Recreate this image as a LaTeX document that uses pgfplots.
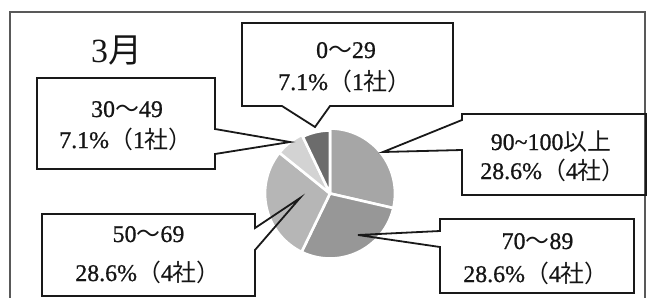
\documentclass[border=0pt]{standalone}
\usepackage{pgfplots}
\pgfplotsset{compat=1.18}
\usepackage{pgfplotstable}
\usepackage{fontspec}
\setmainfont{Liberation Serif}
\newfontfamily\lfont{Liberation Serif}[FakeBold=0.8]
\newfontfamily\jp{Noto Sans CJK JP}

\definecolor{cA}{HTML}{A6A6A6} % 90-100
\definecolor{cB}{HTML}{979797} % 70-89
\definecolor{cC}{HTML}{B6B6B6} % 50-69
\definecolor{cD}{HTML}{D3D3D3} % 30-49
\definecolor{cE}{HTML}{6C6C6C} % 0-29
\definecolor{txt}{HTML}{151515}

\pgfplotstableread{
range pct
90-100 28.6
70-89 28.6
50-69 28.6
30-49 7.1
0-29 7.1
}\piedata

\pgfplotstablegetelem{0}{pct}\of\piedata\let\pA\pgfplotsretval
\pgfplotstablegetelem{1}{pct}\of\piedata\let\pB\pgfplotsretval
\pgfplotstablegetelem{2}{pct}\of\piedata\let\pC\pgfplotsretval
\pgfplotstablegetelem{3}{pct}\of\piedata\let\pD\pgfplotsretval
\pgfplotstablegetelem{4}{pct}\of\piedata\let\pE\pgfplotsretval
\pgfmathsetmacro\aZero{90}
\pgfmathsetmacro\aOne{\aZero-3.6*\pA}
\pgfmathsetmacro\aTwo{\aOne-3.6*\pB}
\pgfmathsetmacro\aThree{\aTwo-3.6*\pC}
\pgfmathsetmacro\aFour{\aThree-3.6*\pD}
\pgfmathsetmacro\aFive{\aFour-3.6*\pE}

\newcommand\lab{\fontsize{24}{28}\selectfont\lfont}

\begin{document}
\begin{tikzpicture}
\useasboundingbox (0,0) rectangle (649bp,298bp);
\begin{axis}[
  x=1bp, y=1bp,
  xmin=0, xmax=649, ymin=0, ymax=298,
  y dir=reverse,
  hide axis,
  clip=true,
]
% pie slices
\def\pc{(axis cs:330,193.5)}
\filldraw[fill=cA, draw=white, line width=2.6bp, line join=round] \pc -- ++(\aOne:65bp) arc[start angle=\aOne, end angle=\aZero, radius=65bp] -- cycle;
\filldraw[fill=cB, draw=white, line width=2.6bp, line join=round] \pc -- ++(\aTwo:65bp) arc[start angle=\aTwo, end angle=\aOne, radius=65bp] -- cycle;
\filldraw[fill=cC, draw=white, line width=2.6bp, line join=round] \pc -- ++(\aThree:65bp) arc[start angle=\aThree, end angle=\aTwo, radius=65bp] -- cycle;
\filldraw[fill=cD, draw=white, line width=2.6bp, line join=round] \pc -- ++(\aFour:65bp) arc[start angle=\aFour, end angle=\aThree, radius=65bp] -- cycle;
\filldraw[fill=cE, draw=white, line width=2.6bp, line join=round] \pc -- ++(\aFive:63bp) arc[start angle=\aFive, end angle=\aFour, radius=63bp] -- cycle;

% outer frame
\draw[black!65, line width=1.2bp] (axis cs:10,298) -- (axis cs:10,12) -- (axis cs:645,12) -- (axis cs:645,298);

% callout boxes
\begin{scope}[line width=1.8bp, black!90, line join=miter]
\draw (axis cs:242,23) -- (axis cs:453,23) -- (axis cs:453,106) -- (axis cs:330,106) -- (axis cs:315,127) -- (axis cs:282,106) -- (axis cs:242,106) -- cycle;
\draw (axis cs:37,78) -- (axis cs:215,78) -- (axis cs:215,129) -- (axis cs:290,142) -- (axis cs:215,154) -- (axis cs:215,169) -- (axis cs:37,169) -- cycle;
\draw (axis cs:462,114) -- (axis cs:646,114) -- (axis cs:646,195) -- (axis cs:462,195) -- (axis cs:462,150) -- (axis cs:383,152) -- (axis cs:462,120) -- cycle;
\draw (axis cs:440,219) -- (axis cs:634,219) -- (axis cs:634,293) -- (axis cs:440,293) -- (axis cs:440,247) -- (axis cs:358,235) -- (axis cs:440,231) -- cycle;
\draw (axis cs:42,214) -- (axis cs:255,214) -- (axis cs:255,228) -- (axis cs:300,198) -- (axis cs:255,250) -- (axis cs:255,296) -- (axis cs:42,296) -- cycle;
\end{scope}

% texts
\node[anchor=base, text=txt, font=\fontsize{34}{40}\selectfont, inner sep=0pt] at (axis cs:116.5,62) {3{\jp 月}};

\node[anchor=base, text=txt, font=\lab, inner sep=0pt] at (axis cs:346,58) {0{\jp ～}29};
\node[anchor=base, text=txt, font=\lab, inner sep=0pt] at (axis cs:345,90) {7.1\%{\jp （}1{\jp 社）}};

\node[anchor=base, text=txt, font=\lab, inner sep=0pt] at (axis cs:127,117) {30{\jp ～}49};
\node[anchor=base, text=txt, font=\lab, inner sep=0pt] at (axis cs:126,148) {7.1\%{\jp （}1{\jp 社）}};

\node[anchor=base, text=txt, font=\lab, inner sep=0pt] at (axis cs:551,150) {90\textasciitilde100{\jp 以上}};
\node[anchor=base, text=txt, font=\lab, inner sep=0pt] at (axis cs:553,179) {28.6\%{\jp （}4{\jp 社）}};

\node[anchor=base, text=txt, font=\lab, inner sep=0pt] at (axis cs:537.5,249) {70{\jp ～}89};
\node[anchor=base, text=txt, font=\lab, inner sep=0pt] at (axis cs:536,282) {28.6\%{\jp （}4{\jp 社）}};

\node[anchor=base, text=txt, font=\lab, inner sep=0pt] at (axis cs:148.5,242) {50{\jp ～}69};
\node[anchor=base, text=txt, font=\lab, inner sep=0pt] at (axis cs:148,281) {28.6\%{\jp （}4{\jp 社）}};
\end{axis}
\end{tikzpicture}
\end{document}
